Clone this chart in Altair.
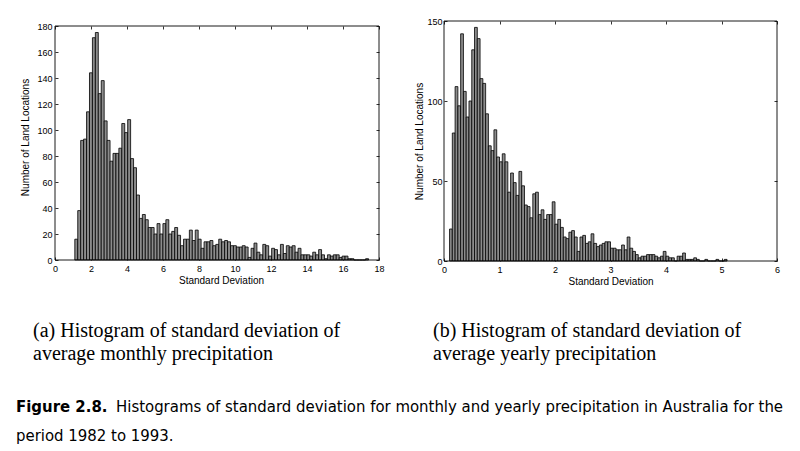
import altair as alt
import pandas as pd

# ---------------- data ----------------
left_counts = [16, 38, 92, 93, 114, 144, 171, 175, 128, 138,
               107, 92, 76, 82, 82, 86, 105, 98, 108, 78,
               71, 50, 32, 35, 31, 25, 25, 20, 28, 20,
               28, 31, 20, 22, 25, 19, 11, 16, 16, 23,
               15, 23, 16, 9, 14, 14, 15, 11, 12, 16,
               14, 15, 14, 11, 11, 10, 10, 11, 10, 2,
               9, 13, 6, 4, 12, 11, 3, 9, 8, 4,
               12, 5, 11, 10, 11, 6, 9, 4, 4, 4,
               3, 6, 4, 8, 4, 1, 4, 3, 4, 4,
               2, 3, 3, 1, 1, 0, 0, 0, 0, 1]
left_bin_start = 1.1
left_bin_width = 0.1632

right_counts = [20, 80, 109, 97, 142, 106, 90, 100, 132, 146,
                139, 114, 111, 92, 72, 69, 82, 65, 62, 67,
                62, 43, 55, 49, 41, 56, 47, 35, 34, 27,
                42, 43, 29, 32, 26, 29, 29, 37, 23, 26,
                21, 15, 14, 18, 19, 15, 6, 15, 16, 11,
                12, 17, 11, 9, 10, 11, 12, 12, 8, 8,
                7, 7, 10, 7, 15, 8, 6, 4, 2, 3,
                3, 4, 4, 4, 3, 2, 3, 6, 3, 2,
                2, 0, 3, 3, 5, 1, 1, 1, 2, 1,
                0, 0, 1, 0, 0, 0, 1, 0, 0, 1]
right_bin_start = 0.1
right_bin_width = 0.05

left_x_domain = [0, 18]
left_y_domain = [0, 180]
right_x_domain = [0, 6]
right_y_domain = [0, 150]
left_x_ticks = [0, 2, 4, 6, 8, 10, 12, 14, 16, 18]
left_y_ticks = [0, 20, 40, 60, 80, 100, 120, 140, 160, 180]
right_x_ticks = [0, 1, 2, 3, 4, 5, 6]
right_y_ticks = [0, 50, 100, 150]

x_title = "Standard Deviation"
y_title = "Number of Land Locations"
caption_a = ["(a) Histogram of standard deviation of", "average monthly precipitation"]
caption_b = ["(b) Histogram of standard deviation of", "average yearly precipitation"]
figure_label = "Figure 2.8."
figure_caption = ["Histograms of standard deviation for monthly and yearly precipitation in Australia for the",
                  "period 1982 to 1993."]

# ---------------- tables ----------------
def hist_table(counts, start, width):
    return pd.DataFrame({
        "lo": [start + i * width for i in range(len(counts))],
        "hi": [start + (i + 1) * width for i in range(len(counts))],
        "count": counts,
    })

left_df = hist_table(left_counts, left_bin_start, left_bin_width)
right_df = hist_table(right_counts, right_bin_start, right_bin_width)
left_frame = pd.DataFrame({"x0": [left_x_domain[0]], "x1": [left_x_domain[1]],
                           "y0": [left_y_domain[0]], "y1": [left_y_domain[1]]})
right_frame = pd.DataFrame({"x0": [right_x_domain[0]], "x1": [right_x_domain[1]],
                            "y0": [right_y_domain[0]], "y1": [right_y_domain[1]]})

# ---------------- layout ----------------
W, H = 722, 240
LX = alt.Scale(domain=left_x_domain, range=[0, 324], nice=False, zero=False)
LY = alt.Scale(domain=left_y_domain, range=[239, 5], nice=False)
RX = alt.Scale(domain=right_x_domain, range=[389, 722], nice=False, zero=False)
RY = alt.Scale(domain=right_y_domain, range=[240, 0], nice=False)

AX = dict(domain=False, grid=False, tickColor="black", tickSize=3, tickWidth=0.8,
          labelFont="Liberation Sans", labelFontSize=9, labelColor="black",
          titleFont="Liberation Sans", titleFontSize=10, titleFontWeight="normal",
          titleColor="black", minExtent=0, maxExtent=300, labelFlush=False)
NOLAB = dict(AX, labels=False)

BAR = dict(color="#8c8c8c", stroke="black", strokeWidth=0.8)

left_bars = alt.Chart(left_df).mark_rect(**BAR).encode(
    x=alt.X("lo:Q", scale=LX, axis=alt.Axis(orient="bottom", offset=-4, values=left_x_ticks,
                                            labelPadding=4, title=x_title, titlePadding=2,
                                            titleX=166, **AX)),
    x2="hi:Q",
    y=alt.Y("count:Q", scale=LY, axis=alt.Axis(orient="left", offset=-3, values=left_y_ticks,
                                               labelPadding=3, title=y_title, titlePadding=6,
                                               titleY=116, **AX)),
    y2=alt.Y2(datum=0),
)
left_box = alt.Chart(left_frame).mark_rect(filled=False, stroke="black", strokeWidth=0.9).encode(
    x=alt.X("x0:Q", scale=LX, axis=alt.Axis(orient="top", offset=-8, values=left_x_ticks,
                                            title=None, **NOLAB)),
    x2="x1:Q",
    y=alt.Y("y0:Q", scale=LY, axis=alt.Axis(orient="right", offset=-401, values=left_y_ticks,
                                            title=None, **NOLAB)),
    y2="y1:Q",
)

right_bars = alt.Chart(right_df).mark_rect(**BAR).encode(
    x=alt.X("lo:Q", scale=RX, axis=alt.Axis(orient="bottom", offset=-3, values=right_x_ticks,
                                            labelPadding=4, title=x_title, titlePadding=2, **AX)),
    x2="hi:Q",
    y=alt.Y("count:Q", scale=RY, axis=alt.Axis(orient="left", offset=-392, values=right_y_ticks,
                                               labelPadding=2, title=y_title, titlePadding=2, **AX)),
    y2=alt.Y2(datum=0),
)
right_box = alt.Chart(right_frame).mark_rect(filled=False, stroke="black", strokeWidth=0.9).encode(
    x=alt.X("x0:Q", scale=RX, axis=alt.Axis(orient="top", offset=-3, values=right_x_ticks,
                                            title=None, **NOLAB)),
    x2="x1:Q",
    y=alt.Y("y0:Q", scale=RY, axis=alt.Axis(orient="right", offset=-3, values=right_y_ticks,
                                            title=None, **NOLAB)),
    y2="y1:Q",
)

def text_line(s, x, y, **kw):
    return alt.Chart(pd.DataFrame({"t": [s]})).mark_text(
        align="left", baseline="alphabetic", color="black", **kw
    ).encode(x=alt.value(x), y=alt.value(y), text="t:N")

SERIF = dict(font="Liberation Serif", fontSize=20)
SANS = dict(font="DejaVu Sans Condensed, Liberation Sans", fontSize=16.6)

texts = [
    text_line(caption_a[0], -22, 316, **SERIF),
    text_line(caption_a[1], -22, 339, **SERIF),
    text_line(caption_b[0], 378, 316, **SERIF),
    text_line(caption_b[1], 378, 339, **SERIF),
    text_line(figure_label, -39, 391, fontWeight="bold", **SANS),
    text_line(figure_caption[0], 61, 391, **SANS),
    text_line(figure_caption[1], -39, 420, **SANS),
]

chart = alt.layer(left_bars, left_box, right_bars, right_box, *texts).resolve_scale(
    x="independent", y="independent"
).resolve_axis(
    x="independent", y="independent"
).properties(
    width=W, height=H,
    autosize=alt.AutoSizeParams(type="none"),
    padding={"left": 47, "top": 13, "right": 15, "bottom": 190},
    background="white",
).configure_view(stroke=None)

chart.save("out.html", embed_options={"renderer": "svg", "actions": False})
